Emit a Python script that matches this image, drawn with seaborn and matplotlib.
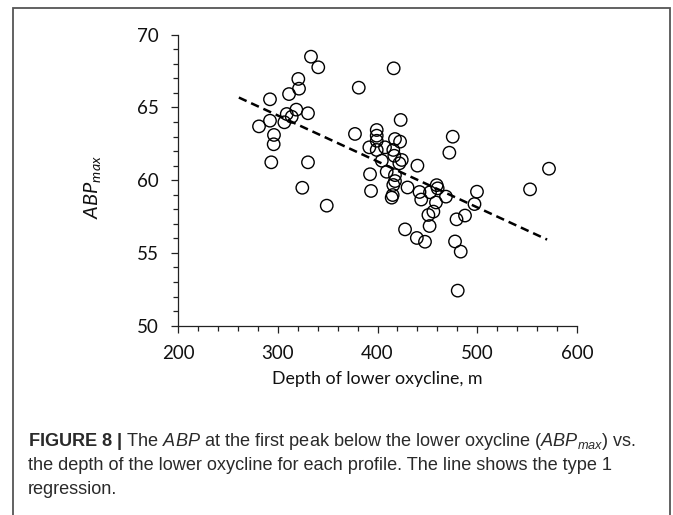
import numpy as np
import pandas as pd
import matplotlib
matplotlib.use("Agg")
import matplotlib.pyplot as plt
from matplotlib import font_manager
from matplotlib.patches import Rectangle
from matplotlib.ticker import MultipleLocator
import seaborn as sns

# depth of lower oxycline (m) and ABP at first peak below it
depth = [333.3, 340.6, 320.6, 321.3, 311.3, 292.2, 381.2, 318.6, 330.3, 309.0,
         314.0, 292.2, 306.6, 281.2, 296.2, 295.9, 293.5, 330.3, 377.4, 391.8,
         392.5, 393.5, 324.6, 349.1, 416.2, 423.2, 399.2, 399.2, 399.2, 417.5,
         422.6, 407.5, 399.2, 415.8, 416.8, 424.3, 404.3, 421.9, 440.0, 409.2,
         417.5, 417.5, 415.8, 430.1, 442.1, 415.2, 414.2, 452.6, 459.3, 460.3,
         443.8, 458.6, 468.6, 456.0, 451.0, 452.2, 427.6, 439.4, 447.6, 477.7,
         483.4, 480.4, 479.2, 487.7, 499.7, 497.2, 475.4, 472.0, 571.9, 552.9]
abp_max = [68.49, 67.76, 66.96, 66.29, 65.92, 65.56, 66.36, 64.85, 64.60, 64.55,
           64.36, 64.09, 63.98, 63.70, 63.11, 62.47, 61.23, 61.23, 63.18, 62.26,
           60.41, 59.26, 59.48, 58.25, 67.69, 64.14, 63.45, 63.06, 62.71, 62.83,
           62.65, 62.26, 62.08, 62.08, 61.68, 61.39, 61.34, 61.16, 61.00, 60.58,
           60.35, 59.94, 59.67, 59.50, 59.19, 58.98, 58.80, 59.17, 59.66, 59.44,
           58.67, 58.47, 58.87, 57.84, 57.61, 56.85, 56.62, 56.03, 55.77, 55.79,
           55.09, 52.41, 57.31, 57.57, 59.21, 58.36, 62.99, 61.89, 60.79, 59.37]

# type 1 regression as drawn in the figure
fit_slope = -0.0316
fit_intercept = 73.93
fit_range = [261, 570]

caption = [
    r"$\mathbf{FIGURE\ 8\ |}$ The $\mathit{ABP}$ at the first peak below the lower oxycline "
    r"($\mathit{ABP}_{\mathit{max}}$) vs.",
    "the depth of the lower oxycline for each profile. The line shows the type 1",
    "regression.",
]

df = pd.DataFrame({"depth": depth, "abp": abp_max})
fit_x = np.array(fit_range, dtype=float)
fit_df = pd.DataFrame({"x": fit_x, "y": fit_intercept + fit_slope * fit_x})

sns.set_theme(style="ticks")
available = {f.name for f in font_manager.fontManager.ttflist}
narrow = "Liberation Sans Narrow" in available
cap_family = "Liberation Sans Narrow" if narrow else "Liberation Sans"
cap_size = 13.8 if narrow else 13.1
plt.rcParams["font.family"] = ["Lato", "DejaVu Sans"]
plt.rcParams["mathtext.fontset"] = "custom"
plt.rcParams["mathtext.rm"] = cap_family
plt.rcParams["mathtext.it"] = cap_family + ":italic"
plt.rcParams["mathtext.bf"] = cap_family + ":bold"
plt.rcParams["mathtext.sf"] = "Lato:italic"

fig = plt.figure(figsize=(6.73, 5.15), dpi=100)
ax = fig.add_axes([0.2645, 0.3676, 0.5929, 0.565])

sns.scatterplot(data=df, x="depth", y="abp", ax=ax, marker="o", s=80,
                facecolor="none", edgecolor="black", linewidth=1.0, zorder=3)
sns.lineplot(data=fit_df, x="x", y="y", ax=ax, color="black", linewidth=1.8,
             dashes=False, zorder=4)
ax.lines[-1].set_dashes([3.4, 2.0])

ax.set_xlim(200, 600)
ax.set_ylim(50, 70)
ax.xaxis.set_major_locator(MultipleLocator(100))
ax.xaxis.set_minor_locator(MultipleLocator(20))
ax.yaxis.set_major_locator(MultipleLocator(5))
ax.yaxis.set_minor_locator(MultipleLocator(1))
ax.tick_params(which="major", length=5, width=0.9, color="#222222",
               labelsize=13.5, pad=9, labelcolor="#111111")
ax.tick_params(which="minor", length=3.5, width=0.9, color="#222222")
for side in ["left", "bottom"]:
    ax.spines[side].set_color("#222222")
    ax.spines[side].set_linewidth(0.9)
sns.despine(ax=ax)

ax.set_xlabel("Depth of lower oxycline, m", fontsize=12.8, color="#111111")
ax.set_ylabel(r"$\mathsf{ABP}_{\mathsf{max}}$", fontsize=14.5, color="#111111")
ax.xaxis.set_label_coords(0.5, -0.157)
ax.yaxis.set_label_coords(-0.185, 0.475)

for i, line in enumerate(caption):
    fig.text(28 / 673, 1 - (442 + 23.5 * i) / 515, line, family=cap_family,
             fontsize=cap_size, color="#2a2a2a", va="center", ha="left")

fig.patches.append(Rectangle((13 / 673, -0.05), 657 / 673, 1.05 - 8 / 515,
                             transform=fig.transFigure, fill=False,
                             edgecolor="#555555", linewidth=1.3))

fig.savefig("out.png", dpi=100)
